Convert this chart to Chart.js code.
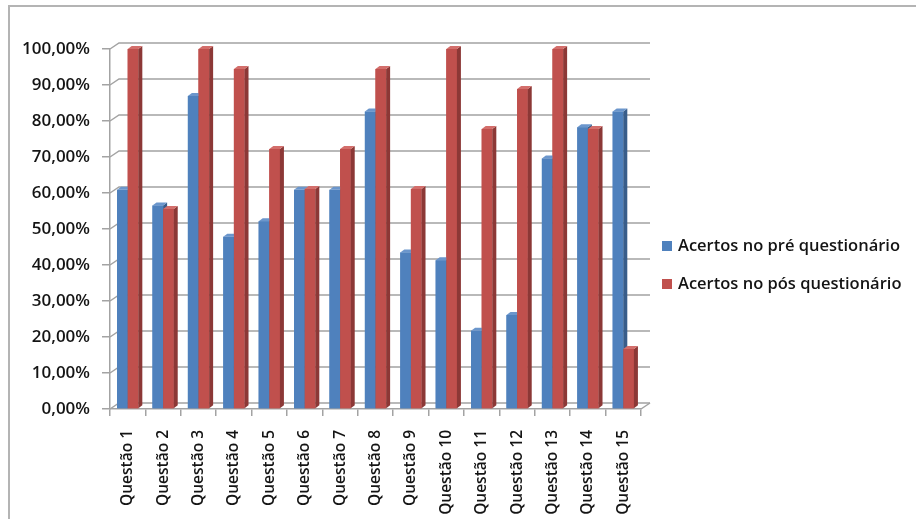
<!DOCTYPE html>
<html>
<head>
<meta charset="utf-8">
<script src="https://cdn.jsdelivr.net/npm/chart.js@4.4.1/dist/chart.umd.min.js"></script>
<style>
  body { margin: 0; background: #fff; }
  #wrap { position: relative; width: 916px; height: 519px; }
  #frame { position: absolute; left: 8px; top: 5px; right: 0; bottom: 0;
           border-top: 2px solid #b4b4b4; border-left: 2px solid #b4b4b4; pointer-events: none; }
  canvas { position: absolute; left: 0; top: 0; }
</style>
</head>
<body>
<div id="wrap">
  <canvas id="chart" width="916" height="519"></canvas>
  <div id="frame"></div>
</div>
<script>
// categories and values (percent)
const questions = ['Questão 1', 'Questão 2', 'Questão 3', 'Questão 4', 'Questão 5',
  'Questão 6', 'Questão 7', 'Questão 8', 'Questão 9', 'Questão 10',
  'Questão 11', 'Questão 12', 'Questão 13', 'Questão 14', 'Questão 15'];
const preValues = [60.87, 56.52, 86.96, 47.83, 52.17, 60.87, 60.87, 82.61, 43.48, 41.30,
  21.74, 26.09, 69.57, 78.26, 82.61];
const postValues = [100, 55.56, 100, 94.44, 72.22, 61.11, 72.22, 94.44, 61.11, 100,
  77.78, 88.89, 100, 77.78, 16.67];
const seriesNames = ['Acertos no pré questionário', 'Acertos no pós questionário'];

const FONT = '"Open Sans", sans-serif';
const TEXT = '#141414';
const GRID = '#a3a3a3';
// colours per series: front, side, top
const faces = [
  { front: '#4F81BD', side: '#385D8A', top: '#6B96CC' },
  { front: '#C0504D', side: '#8C3836', top: '#D36E6B' }
];
const DX = 4, DY = 3;      // bar depth
const WX = 9, WY = 6;      // wall depth

// back-wall gridlines with the 3D slant
const wallGrid = {
  id: 'wallGrid',
  beforeDatasetsDraw(chart) {
    const { ctx, chartArea: a, scales } = chart;
    ctx.save();
    ctx.strokeStyle = GRID;
    ctx.lineWidth = 1.5;
    scales.y.ticks.forEach((t) => {
      const y = scales.y.getPixelForValue(t.value);
      ctx.beginPath();
      ctx.moveTo(a.left, y);
      ctx.lineTo(a.left + WX, y - WY);
      ctx.lineTo(a.right + WX, y - WY);
      ctx.stroke();
    });
    // floor right edge
    ctx.beginPath();
    ctx.moveTo(a.right, a.bottom);
    ctx.lineTo(a.right + WX, a.bottom - WY);
    ctx.stroke();
    ctx.restore();
  }
};

// redraw each bar as a small box, blue then red per category
const boxes = {
  id: 'boxes',
  afterDatasetsDraw(chart) {
    const ctx = chart.ctx;
    ctx.save();
    for (let i = 0; i < questions.length; i++) {
      for (let d = 0; d < 2; d++) {
        const el = chart.getDatasetMeta(d).data[i];
        const { x, y, base, width } = el.getProps(['x', 'y', 'base', 'width'], true);
        const l = x - width / 2, r = x + width / 2;
        const c = faces[d];
        ctx.fillStyle = c.front;
        ctx.fillRect(l, y, width, base - y);
        ctx.fillStyle = c.side;
        ctx.beginPath();
        ctx.moveTo(r, y);
        ctx.lineTo(r + DX, y - DY);
        ctx.lineTo(r + DX, base - DY);
        ctx.lineTo(r, base);
        ctx.closePath();
        ctx.fill();
        ctx.fillStyle = c.top;
        ctx.beginPath();
        ctx.moveTo(l, y);
        ctx.lineTo(l + DX, y - DY);
        ctx.lineTo(r + DX, y - DY);
        ctx.lineTo(r, y);
        ctx.closePath();
        ctx.fill();
      }
    }
    ctx.restore();
  }
};

// legend on the right
const sideLegend = {
  id: 'sideLegend',
  afterDraw(chart) {
    const ctx = chart.ctx;
    ctx.save();
    ctx.font = '600 16.5px ' + FONT;
    ctx.textBaseline = 'middle';
    seriesNames.forEach((name, k) => {
      const cy = 246 + k * 38;
      ctx.fillStyle = faces[k].front;
      ctx.fillRect(662, cy - 5, 10, 10);
      ctx.fillStyle = TEXT;
      ctx.fillText(name, 678, cy);
    });
    ctx.restore();
  }
};

new Chart(document.getElementById('chart'), {
  type: 'bar',
  data: {
    labels: questions,
    datasets: [
      { label: seriesNames[0], data: preValues, backgroundColor: faces[0].front },
      { label: seriesNames[1], data: postValues, backgroundColor: faces[1].front }
    ]
  },
  options: {
    responsive: false,
    animation: false,
    layout: { padding: { left: 0, right: 275, top: 49, bottom: 0 } },
    datasets: { bar: { categoryPercentage: 0.6, barPercentage: 1, borderWidth: 0 } },
    plugins: { legend: { display: false }, tooltip: { enabled: false } },
    scales: {
      x: {
        afterFit(s) { s.height = 110; },
        grid: { drawOnChartArea: false, tickLength: 7, color: GRID, lineWidth: 1.5 },
        border: { color: GRID, width: 1.5 },
        ticks: { color: TEXT, font: { family: FONT, size: 15.5, weight: '600' }, minRotation: 90, maxRotation: 90, padding: 14 }
      },
      y: {
        min: 0,
        max: 100,
        afterFit(s) { s.width = 110; },
        grid: { drawOnChartArea: false, tickLength: 8, color: GRID, lineWidth: 1.5 },
        border: { color: GRID, width: 1.5 },
        ticks: {
          stepSize: 10,
          padding: 12,
          color: TEXT,
          font: { family: FONT, size: 17, weight: '600' },
          callback: (v) => v.toFixed(2).replace('.', ',') + '%'
        }
      }
    }
  },
  plugins: [wallGrid, boxes, sideLegend]
});
</script>
</body>
</html>
